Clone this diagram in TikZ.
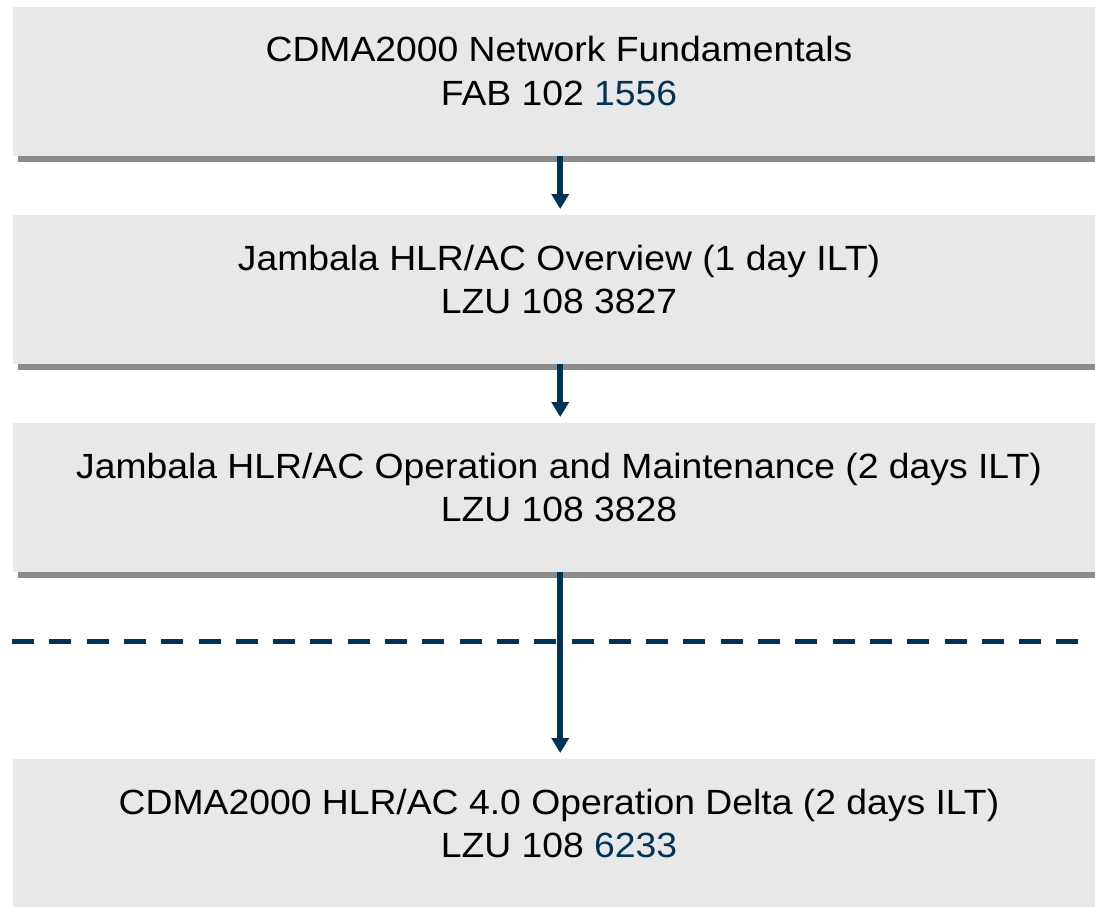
\documentclass[tikz,border=0pt]{standalone}
\usepackage{fontspec}
\setmainfont{Liberation Sans}[FakeStretch=1.066]
\usetikzlibrary{arrows.meta,backgrounds}
\definecolor{navy}{RGB}{0,51,86}
\definecolor{boxfill}{RGB}{232,232,232}
\definecolor{backfill}{RGB}{240,240,240}
\definecolor{bargray}{RGB}{140,140,140}
\tikzset{
  mainbox/.style={fill=boxfill, draw=none, anchor=north west, inner sep=0pt,
    minimum width=1082pt, minimum height=149pt},
  txt/.style={anchor=base, inner sep=0pt, font=\fontsize{35pt}{43pt}\selectfont},
  flowarrow/.style={draw=navy, line width=6pt, -{Triangle[width=17pt,length=15pt]}},
  divider/.style={draw=navy, line width=5pt, dash pattern=on 22pt off 15.3pt},
}
\newcommand{\boxdeco}[1]{%
  \begin{pgfonlayer}{background}
    \fill[backfill] ([shift={(-6pt,6pt)}]#1.north west) rectangle ([yshift=6pt]#1.south east);
  \end{pgfonlayer}}
\newcommand{\boxbar}[1]{%
  \fill[bargray] ([xshift=5pt]#1.south west) rectangle ([yshift=-6pt]#1.south east);}
\begin{document}
\begin{tikzpicture}[x=1pt,y=-1pt]
\useasboundingbox[fill=white] (0,0) rectangle (1095,907);
% boxes
\node[mainbox] (b1) at (13,7) {};
\node[mainbox] (b2) at (13,215) {};
\node[mainbox] (b3) at (13,423) {};
\node[mainbox] (b4) at (13,759) {};
\boxdeco{b1}\boxdeco{b2}\boxdeco{b3}\boxdeco{b4}
\boxbar{b1}\boxbar{b2}\boxbar{b3}
% texts
\node[txt] (t1a) at (559,62) {CDMA2000 Network Fundamentals};
\node[txt] (t1b) at (559,105) {FAB 102 \textcolor{navy}{1556}};
\node[txt] (t2a) at (559,270) {Jambala HLR/AC Overview (1 day ILT)};
\node[txt] (t2b) at (559,313) {LZU 108 3827};
\node[txt] (t3a) at (559,478) {Jambala HLR/AC Operation and Maintenance (2 days ILT)};
\node[txt] (t3b) at (559,521) {LZU 108 3828};
\node[txt] (t4a) at (559,814) {CDMA2000 HLR/AC 4.0 Operation Delta (2 days ILT)};
\node[txt] (t4b) at (559,857) {LZU 108 \textcolor{navy}{6233}};
% divider
\coordinate (dl) at (12,641);
\coordinate (dr) at (1085,641);
\draw[divider] (dl) -- (dr);
% arrows
\draw[flowarrow] ([xshift=6pt]b1.south) -- ([shift={(6pt,6pt)}]b2.north);
\draw[flowarrow] ([xshift=6pt]b2.south) -- ([shift={(6pt,6pt)}]b3.north);
\draw[flowarrow] ([xshift=6pt]b3.south) -- ([shift={(6pt,6pt)}]b4.north);
\end{tikzpicture}
\end{document}
